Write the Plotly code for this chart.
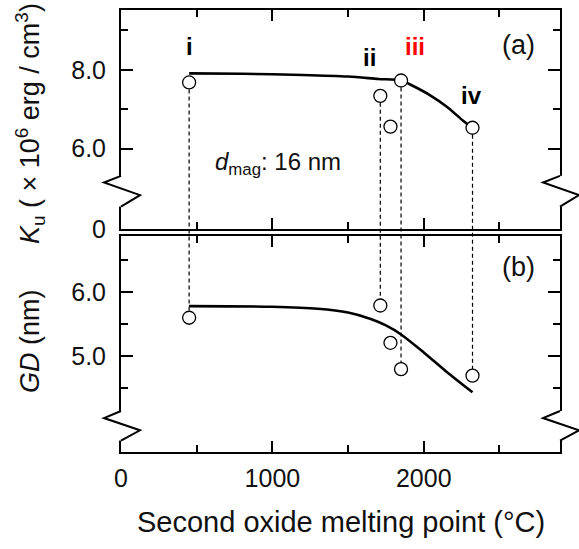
import plotly.graph_objects as go

# ---------------- data ----------------
sample_labels = ["i", "ii", "iii", "iv"]
label_x = [450, 1640, 1942, 2313]
label_y = [8.60, 8.32, 8.59, 7.35]
label_colors = ["black", "black", "red", "black"]

melting_point = [450, 1713, 1780, 1850, 2322]      # second oxide melting point (°C)
ku_values = [7.68, 7.34, 6.56, 7.73, 6.53]          # Ku (x10^6 erg/cm3)
gd_values = [5.60, 5.79, 5.21, 4.80, 4.70]          # GD (nm)
drop_line_idx = [0, 1, 3, 4]                        # points i, ii, iii, iv

ku_fit_x = [450, 800, 1200, 1500, 1700, 1850, 1930, 2040, 2150, 2260, 2322]
ku_fit_y = [7.91, 7.90, 7.87, 7.83, 7.77, 7.73, 7.59, 7.36, 7.07, 6.71, 6.53]
gd_fit_x = [450, 1000, 1300, 1500, 1650, 1750, 1850, 2000, 2150, 2322]
gd_fit_y = [5.78, 5.77, 5.74, 5.68, 5.58, 5.48, 5.34, 5.06, 4.76, 4.44]

x_range = [0, 2900]
ku_range = [3.96, 9.52]
gd_range = [3.512, 6.871]
ku_tickvals = [3.965, 6.0, 8.0]
ku_ticktext = ["0", "6.0", "8.0"]
ku_minor_ticks = [7.0, 9.0]
gd_tickvals = [5.0, 6.0]
gd_ticktext = ["5.0", "6.0"]
gd_minor_ticks = [4.5, 5.5, 6.5]
ku_break = [5.31, 5.14, 4.82, 4.53]   # axis-break zigzag (top, apex1, apex2, bottom)
gd_break = [4.15, 4.04, 3.85, 3.69]

# ---------------- layout constants ----------------
W, H = 579, 549
ML, MR, MT, MB = 121, 19, 10, 97
PW = W - ML - MR
PH = H - MT - MB
dom_b = [0.0, 216 / PH]
dom_a = [223 / PH, 1.0]
FONT = "Liberation Sans, Arial, sans-serif"
TXT = "#111111"


def paper_y(v, rng, dom):
    return dom[0] + (v - rng[0]) / (rng[1] - rng[0]) * (dom[1] - dom[0])


fig = go.Figure()
marker = dict(symbol="circle", size=13, color="white", line=dict(color="black", width=1.3))
fit_line = dict(color="black", width=2.6, shape="spline", smoothing=0.8)

fig.add_trace(go.Scatter(x=ku_fit_x, y=ku_fit_y, mode="lines", line=fit_line,
                         xaxis="x", yaxis="y", hoverinfo="skip"))
fig.add_trace(go.Scatter(x=melting_point, y=ku_values, mode="markers", marker=marker,
                         xaxis="x", yaxis="y"))
fig.add_trace(go.Scatter(x=gd_fit_x, y=gd_fit_y, mode="lines", line=fit_line,
                         xaxis="x2", yaxis="y2", hoverinfo="skip"))
fig.add_trace(go.Scatter(x=melting_point, y=gd_values, mode="markers", marker=marker,
                         xaxis="x2", yaxis="y2"))

tick_style = dict(showline=True, linecolor="black", linewidth=2, mirror="ticks",
                  ticks="inside", tickwidth=2, tickcolor="black",
                  showgrid=False, zeroline=False, automargin=False)

xcommon = dict(tick_style, range=x_range, ticklen=11, tickmode="linear", tick0=0, dtick=1000,
               minor=dict(tick0=0, dtick=500, ticks="inside", ticklen=7, tickwidth=2,
                          tickcolor="black"))

fig.update_layout(
    width=W, height=H,
    margin=dict(l=ML, r=MR, t=MT, b=MB),
    paper_bgcolor="white", plot_bgcolor="white",
    showlegend=False,
    font=dict(family=FONT, color=TXT),
    xaxis=dict(xcommon, anchor="y", showticklabels=False),
    xaxis2=dict(xcommon, anchor="y2", matches="x", showticklabels=True,
                tickfont=dict(size=25, family=FONT, color=TXT), ticklabelstandoff=3),
    yaxis=dict(tick_style, domain=dom_a, range=ku_range, anchor="x", ticklen=12,
               tickmode="array", tickvals=ku_tickvals, ticktext=ku_ticktext,
               minor=dict(tickmode="array", tickvals=ku_minor_ticks, ticks="inside",
                          ticklen=7, tickwidth=2, tickcolor="black"),
               tickfont=dict(size=25, family=FONT, color=TXT), ticklabelstandoff=8),
    yaxis2=dict(tick_style, domain=dom_b, range=gd_range, anchor="x2", ticklen=12,
                tickmode="array", tickvals=gd_tickvals, ticktext=gd_ticktext,
                minor=dict(tickmode="array", tickvals=gd_minor_ticks, ticks="inside",
                           ticklen=7, tickwidth=2, tickcolor="black"),
                tickfont=dict(size=25, family=FONT, color=TXT), ticklabelstandoff=8),
)

shapes = []
# dashed drop lines connecting panel (a) and panel (b)
for i in drop_line_idx:
    shapes.append(dict(type="line", xref="x2", yref="paper", layer="below",
                       x0=melting_point[i], x1=melting_point[i],
                       y0=paper_y(ku_values[i], ku_range, dom_a),
                       y1=paper_y(gd_values[i], gd_range, dom_b),
                       line=dict(color="black", width=1.2, dash="4px,3px")))

# axis-break zigzags on left and right axes
dxo = -17 / PW
dxi = 19 / PW
for yref, br in (("y", ku_break), ("y2", gd_break)):
    for x0 in (0, 1):
        shapes.append(dict(type="line", xref="paper", yref=yref, layer="above",
                           x0=x0, x1=x0, y0=br[0], y1=br[3],
                           line=dict(color="white", width=6)))
        path = (f"M {x0},{br[0]} L {x0 + dxo},{br[1]} "
                f"L {x0 + dxi},{br[2]} L {x0},{br[3]}")
        shapes.append(dict(type="path", xref="paper", yref=yref, layer="above",
                           path=path, line=dict(color="black", width=2)))
fig.update_layout(shapes=shapes)

ann = []
for t, x, y, c in zip(sample_labels, label_x, label_y, label_colors):
    ann.append(dict(text=f"<b>{t}</b>", x=x, y=y, xref="x", yref="y", showarrow=False,
                    font=dict(size=24, color=c, family=FONT)))
ann.append(dict(text="(a)", x=2625, y=8.62, xref="x", yref="y", showarrow=False,
                font=dict(size=27, color=TXT, family=FONT)))
ann.append(dict(text="(b)", x=2625, y=6.39, xref="x2", yref="y2", showarrow=False,
                font=dict(size=27, color=TXT, family=FONT)))
ann.append(dict(text="<i>d</i><sub>mag</sub>: 16 nm", x=1040, y=5.62, xref="x", yref="y",
                showarrow=False, font=dict(size=24, color=TXT, family=FONT)))
ann.append(dict(text="<i>K</i><sub>u</sub> ( × 10<sup>6</sup> erg / cm<sup>3</sup>)",
                x=(30 - ML) / PW, y=(H - MB - 124) / PH, xref="paper", yref="paper",
                textangle=-90, showarrow=False, xanchor="center", yanchor="middle",
                font=dict(size=27, color=TXT, family=FONT)))
ann.append(dict(text="<i>GD</i> (nm)",
                x=(30 - ML) / PW, y=(H - MB - 341) / PH, xref="paper", yref="paper",
                textangle=-90, showarrow=False, xanchor="center", yanchor="middle",
                font=dict(size=27, color=TXT, family=FONT)))
ann.append(dict(text="Second oxide melting point (°C)",
                x=0.5, y=(H - MB - 522) / PH, xref="paper", yref="paper",
                showarrow=False, xanchor="center", yanchor="middle",
                font=dict(size=29, color=TXT, family=FONT)))
fig.update_layout(annotations=ann)

# remove the browser's default 8px page margin so the figure fills the window
fig.write_html("out.html", config={"displayModeBar": False},
               post_script="document.body.style.margin='0';document.body.style.overflow='hidden';")
